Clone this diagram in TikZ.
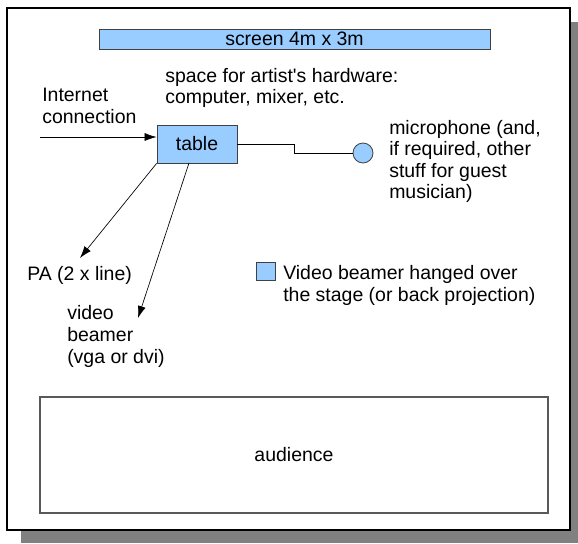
\documentclass[tikz,border=0pt]{standalone}
\usepackage{fontspec}
\setmainfont{Liberation Sans}
\usetikzlibrary{arrows.meta}
\definecolor{paleblue}{RGB}{153,204,255}
\begin{document}
\begin{tikzpicture}[x=0.75pt,y=-0.75pt,
		lbl/.style={font=\fontsize{14.6}{16.2}\selectfont,align=left,anchor=west,inner sep=0pt},
		bluebox/.style={draw=black!75,fill=paleblue,line width=0.6pt},
		wire/.style={line width=0.5pt},
		arr/.style={wire,-{Latex[length=9pt,width=6pt]}}]
		\useasboundingbox (0,0) rectangle (578,543);
		\coordinate (inet) at (40,137);
		\coordinate (bend) at (294,153);
		\coordinate (patip) at (80,258);
		\coordinate (vbtop) at (189,163);
		\coordinate (vbtip) at (138,318);
		% frame with its shadow
		\fill[black!50] (21,22) rectangle (578,543);
		\draw[fill=white,line width=1pt] (7,8) rectangle (570,530);
		% stage
		\draw[bluebox] (99,29) rectangle (490,49);
		\node[lbl,anchor=center] (screen) at (294.5,39) {screen 4m x 3m};
		\node[bluebox,font=\fontsize{14.6}{16.2}\selectfont,minimum width=60pt,minimum height=28.5pt] (table) at (197,144) {table};
		\node[bluebox,circle,inner sep=0pt,minimum size=15pt] (mic) at (363,153) {};
		\draw[bluebox] (256,262) rectangle (275,280);
		\draw[line width=0.8pt,draw=black!65] (40,397) rectangle (548,513);
		% labels
		\node[lbl] (hw) at (165,88) {space for artist\textquotesingle s hardware:\\computer, mixer, etc.};
		\node[lbl] (net) at (42,106) {Internet\\connection};
		\node[lbl] (micl) at (389,161.5) {microphone (and,\\if required, other\\stuff for guest\\musician)};
		\node[lbl] (pa) at (27,275) {PA (2 x line)};
		\node[lbl] (vb) at (67,336.5) {video\\beamer\\(vga or dvi)};
		\node[lbl] (legend) at (283,285.5) {Video beamer hanged over\\the stage (or back projection)};
		\node[lbl,anchor=center] (audience) at (294,455) {audience};
		% connections
		\draw[arr] (inet) -- (table.west |- inet);
		\draw[wire] (table.east) -| (bend) -- (mic.west);
		\draw[arr] (table.south west) -- (patip);
		\draw[arr] (vbtop) -- (vbtip);
	\end{tikzpicture}
\end{document}
